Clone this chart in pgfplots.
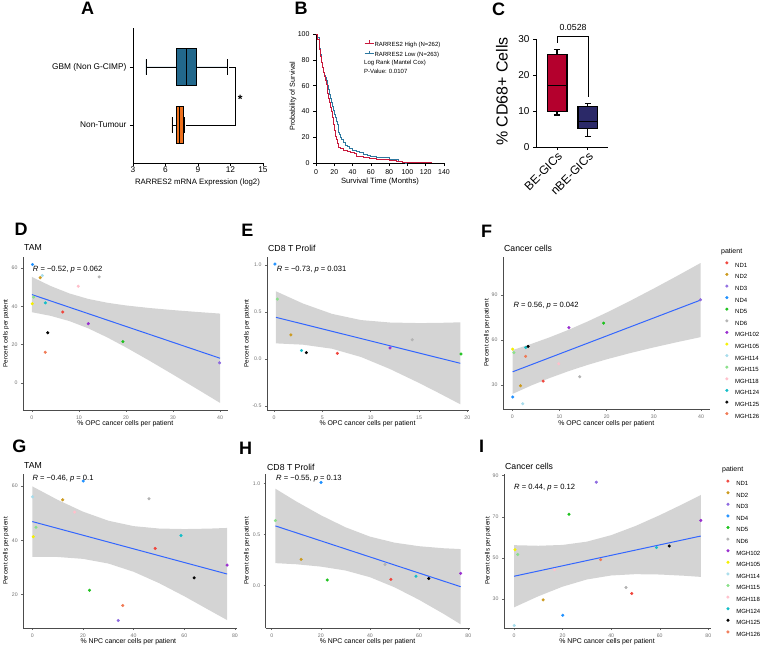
\documentclass[border=0pt]{standalone}
\usepackage{fontspec}
\setmainfont{Liberation Sans}
\usepackage{pgfplots}
\pgfplotsset{compat=1.18}
\usepgfplotslibrary{statistics}

\definecolor{cGBM}{RGB}{34,104,140}
\definecolor{cNT}{RGB}{236,112,30}
\definecolor{cHigh}{RGB}{200,25,60}
\definecolor{cLow}{RGB}{45,120,160}
\definecolor{cBE}{RGB}{180,0,45}
\definecolor{cnBE}{RGB}{43,41,104}
\definecolor{cFit}{HTML}{3366FF}
\definecolor{cND1}{HTML}{F0453C}
\definecolor{cND2}{HTML}{CC9A1E}
\definecolor{cND3}{HTML}{8E6BE0}
\definecolor{cND4}{HTML}{1E90FF}
\definecolor{cND5}{HTML}{1FC21F}
\definecolor{cND6}{HTML}{B3B3B3}
\definecolor{cMGH102}{HTML}{9A2FD0}
\definecolor{cMGH105}{HTML}{F5F000}
\definecolor{cMGH114}{HTML}{A8DCEB}
\definecolor{cMGH115}{HTML}{8BE08B}
\definecolor{cMGH118}{HTML}{FFC0CB}
\definecolor{cMGH124}{HTML}{14BEC8}
\definecolor{cMGH125}{HTML}{000000}
\definecolor{cMGH126}{HTML}{F07A55}

\pgfplotsset{
  prism/.style={scale only axis, axis x line=bottom, axis y line=left,
    axis line style={-, black, line width=0.6pt}, tick align=outside,
    major tick length=3pt, tick style={black, line width=0.6pt},
    /pgf/number format/assume math mode=true},
  gg/.style={scale only axis, axis x line=bottom, axis y line=left,
    axis line style={-, black!70, line width=0.6pt}, tick align=outside,
    major tick length=2pt, tick style={black!60, line width=0.4pt},
    ticklabel style={font=\fontsize{5.2}{6}\selectfont, text=black!55},
    /pgf/number format/assume math mode=true},
  band/.style={fill=black!17, draw=none, forget plot},
  fitline/.style={color=cFit, line width=1pt, forget plot},
  ptcls/.style={scatter, only marks, scatter src=explicit symbolic, mark=*, mark size=1.35pt,
    forget plot,
    scatter/classes={
      ND1={mark=*,draw=cND1,fill=cND1}, ND2={mark=*,draw=cND2,fill=cND2},
      ND3={mark=*,draw=cND3,fill=cND3}, ND4={mark=*,draw=cND4,fill=cND4},
      ND5={mark=*,draw=cND5,fill=cND5}, ND6={mark=*,draw=cND6,fill=cND6},
      MGH102={mark=*,draw=cMGH102,fill=cMGH102}, MGH105={mark=*,draw=cMGH105,fill=cMGH105},
      MGH114={mark=*,draw=cMGH114,fill=cMGH114}, MGH115={mark=*,draw=cMGH115,fill=cMGH115},
      MGH118={mark=*,draw=cMGH118,fill=cMGH118}, MGH124={mark=*,draw=cMGH124,fill=cMGH124},
      MGH125={mark=*,draw=cMGH125,fill=cMGH125}, MGH126={mark=*,draw=cMGH126,fill=cMGH126}}},
  pl/.style={only marks, mark=*, mark size=1.35pt, draw=#1, fill=#1,
    legend image code/.code={\draw[##1] plot coordinates {(0pt,2.2pt)};}},
  km/.style={draw=#1, line width=0.8pt,
    legend image code/.code={\draw[##1] (0pt,2pt)--(9pt,2pt); \draw[##1] (4.5pt,2pt)--(4.5pt,4.5pt);}},
  ptlegend/.style={legend cell align=left,
    legend style={anchor=north west, draw=none, fill=none, inner sep=0pt,
      font=\fontsize{6}{7}\selectfont, row sep=5.3pt,
      nodes={inner sep=0.5pt, text height=4.5pt, text depth=0pt},
      /tikz/every odd column/.append style={column sep=6.5pt}}},
}

\newcommand{\patientlegend}{%
  \addlegendimage{pl=cND1}\addlegendentry{ND1}
  \addlegendimage{pl=cND2}\addlegendentry{ND2}
  \addlegendimage{pl=cND3}\addlegendentry{ND3}
  \addlegendimage{pl=cND4}\addlegendentry{ND4}
  \addlegendimage{pl=cND5}\addlegendentry{ND5}
  \addlegendimage{pl=cND6}\addlegendentry{ND6}
  \addlegendimage{pl=cMGH102}\addlegendentry{MGH102}
  \addlegendimage{pl=cMGH105}\addlegendentry{MGH105}
  \addlegendimage{pl=cMGH114}\addlegendentry{MGH114}
  \addlegendimage{pl=cMGH115}\addlegendentry{MGH115}
  \addlegendimage{pl=cMGH118}\addlegendentry{MGH118}
  \addlegendimage{pl=cMGH124}\addlegendentry{MGH124}
  \addlegendimage{pl=cMGH125}\addlegendentry{MGH125}
  \addlegendimage{pl=cMGH126}\addlegendentry{MGH126}}

\begin{document}
\begin{tikzpicture}
\useasboundingbox (0pt,0pt) rectangle (761pt,-648pt);

% ---------- A ----------
\begin{axis}[prism, at={(133pt,-163pt)}, anchor=south west, width=130pt, height=135pt,
  xmin=3, xmax=15, ymin=0.345, ymax=2.672, xtick={3,6,9,12,15}, ytick={1,2},
  yticklabels={Non-Tumour,GBM (Non G-CIMP)},
  ticklabel style={font=\fontsize{8.3}{10}\selectfont}, xticklabel style={inner sep=1pt},
  clip=false]
\addplot[boxplot prepared={draw direction=x, draw position=2, median=7.9,
  lower quartile=7.0, upper quartile=8.8, lower whisker=4.2, upper whisker=11.7,
  box extend=0.64, whisker extend=0.26}, draw=black, fill=cGBM, line width=0.6pt] coordinates {};
\addplot[boxplot prepared={draw direction=x, draw position=1, median=7.3,
  lower quartile=7.0, upper quartile=7.6, lower whisker=6.6, upper whisker=7.7,
  box extend=0.64, whisker extend=0.26}, draw=black, fill=cNT, line width=0.6pt] coordinates {};
\draw[line width=0.6pt] (axis cs:11.9,2) -- (axis cs:12.4,2) -- (axis cs:12.4,1) -- (axis cs:7.85,1);
\node[font=\bfseries\fontsize{12}{12}\selectfont] at (axis cs:12.9,1.45) {*};
\end{axis}
\node[font=\fontsize{7.8}{9}\selectfont] at (197.5pt,-182pt) {RARRES2 mRNA Expression (log2)};

% ---------- B ----------
\begin{axis}[prism, at={(316pt,-163pt)}, anchor=south west, width=128pt, height=129pt,
  xmin=0, xmax=140, ymin=0, ymax=100, xtick={0,20,...,140}, ytick={0,20,...,100},
  ticklabel style={font=\fontsize{7}{8}\selectfont},
  legend cell align=left,
  legend style={at={(0.375,0.955)}, anchor=north west, draw=none, fill=none, inner sep=0pt,
    font=\fontsize{6}{7}\selectfont, row sep=2pt,
    nodes={inner sep=0.5pt, text height=4.5pt, text depth=1.3pt}}]
\addplot[const plot, color=cLow, line width=0.8pt, forget plot] coordinates {
(0,100)(2,97)(4,89)(5,84)(6,78)(7,74)(8,70)(9,68)(10,66)(11,64)(12,62)(13,60)(14,57)
(15,53)(16,50)(17,47)(18,44)(19,41)(20,38)(21,35)(22,32)(23,30)(24,27)(25,24)(26,22)
(27,20)(28,18)(30,16)(32,14)(34,12.5)(37,11)(40,10)(44,9)(48,8)(52,7)(56,6)(60,5)
(66,4.5)(72,4)(80,3)(86,2.5)(90,1.5)(94,0.8)(98,0)(100,0)};
\addplot[const plot, color=cHigh, line width=0.8pt, forget plot] coordinates {
(0,100)(2,96)(4,88)(5,83)(6,78)(7,74)(8,70)(9,67)(10,64)(11,61)(12,58)(13,54)(14,50)
(15,47)(16,43)(17,40)(18,35)(19,30)(20,25)(21,21)(22,18)(23,15)(24,13)(25,12)(27,11)
(30,10)(34,9)(38,8)(42,7.5)(44,5.5)(48,5)(52,4)(58,3.5)(66,3)(72,2.5)(80,2)(88,1.5)
(94,0.8)(100,0.5)(110,0.4)(127,0.4)};
\addlegendimage{km=cHigh}\addlegendentry{RARRES2 High (N=262)}
\addlegendimage{km=cLow}\addlegendentry{RARRES2 Low (N=263)}
\end{axis}
\node[anchor=west, font=\fontsize{6}{7}\selectfont, inner sep=0pt] at (364pt,-63pt) {Log Rank (Mantel Cox)};
\node[anchor=west, font=\fontsize{6}{7}\selectfont, inner sep=0pt] at (364pt,-71.5pt) {P-Value: 0.0107};
\node[rotate=90, font=\fontsize{7.2}{8}\selectfont] at (293pt,-96pt) {Probability of Survival};
\node[font=\fontsize{7.6}{9}\selectfont] at (380pt,-182pt) {Survival Time (Months)};

% ---------- C ----------
\begin{axis}[prism, at={(536pt,-147pt)}, anchor=south west, width=72pt, height=108pt,
  xmin=0.32, xmax=2.65, ymin=0, ymax=30, xtick={1,2}, xticklabels={BE-GICs,nBE-GICs},
  ytick={0,10,20,30}, yticklabel style={font=\fontsize{10}{12}\selectfont},
  xticklabel style={font=\fontsize{12}{14}\selectfont, rotate=45, anchor=north east, inner sep=1pt},
  axis line style={line width=1pt}, tick style={line width=1pt}, clip=false]
\addplot[boxplot prepared={draw direction=y, draw position=1, median=17, lower quartile=9.8,
  upper quartile=25.8, lower whisker=8.9, upper whisker=27.2,
  box extend=0.645, whisker extend=0.2}, draw=black, fill=cBE, line width=1.1pt] coordinates {};
\addplot[boxplot prepared={draw direction=y, draw position=2, median=7.2, lower quartile=5.2,
  upper quartile=11.2, lower whisker=3, upper whisker=12,
  box extend=0.645, whisker extend=0.2}, draw=black, fill=cnBE, line width=1.1pt] coordinates {};
\draw[line width=0.8pt] (axis cs:1,28.9) -- (axis cs:1,30.8) -- (axis cs:2,30.8) -- (axis cs:2,13.9);
\node[font=\fontsize{8.8}{10}\selectfont] at (axis cs:1.52,33.3) {0.0528};
\end{axis}
\node[rotate=90, font=\fontsize{16}{18}\selectfont] at (502pt,-91.5pt) {\% CD68+ Cells};

% ---------- D ----------
\begin{axis}[gg, at={(23pt,-410pt)}, anchor=south west, width=205pt, height=153pt,
  xmin=-1.9, xmax=41.7, ymin=-14.1, ymax=65.7, xtick={0,10,...,40}, ytick={0,20,40,60}]
\addplot[band] coordinates {(0,55.30)(4,50.56)(8,46.67)(12,43.82)(16,41.85)(20,40.44)(25,39.10)
 (30,38.01)(35,37.07)(40,36.19)(40,-10.39)(35,-2.97)(30,4.39)(25,11.60)(20,18.56)(16,23.79)
 (12,28.46)(8,32.25)(4,35.00)(0,36.90)};
\addplot[fitline] coordinates {(0,46.1)(40,12.9)};
\addplot[ptcls] table[meta=p] {
x y p
0.10 61.8 ND4
2.20 56.0 MGH114
1.75 54.9 ND2
14.3 55.3 ND6
9.85 50.4 MGH118
0.35 44.8 MGH115
0.08 41.3 MGH105
2.85 41.8 MGH124
6.55 37.0 ND1
12.0 30.9 MGH102
3.35 26.2 MGH125
19.35 21.6 ND5
2.82 16.0 MGH126
39.9 10.5 ND3
};
\end{axis}

% ---------- E ----------
\begin{axis}[gg, at={(267pt,-410pt)}, anchor=south west, width=202pt, height=153pt,
  xmin=-0.72, xmax=20.17, ymin=-0.543, ymax=1.085, xtick={0,5,...,20}, ytick={-0.5,0,0.5,1},
  yticklabel style={/pgf/number format/.cd, fixed, fixed zerofill, precision=1}]
\addplot[band] coordinates {(0.21,0.720)(3,0.590)(6,0.480)(9,0.414)(12,0.388)(15,0.382)(17,0.384)
 (19.27,0.390)(19.27,-0.482)(17,-0.360)(15,-0.255)(12,-0.107)(9,0.021)(6,0.109)(3,0.152)(0.21,0.166)};
\addplot[fitline] coordinates {(0.21,0.443)(19.27,-0.046)};
\addplot[ptcls] table[meta=p] {
x y p
0.10 1.010 ND4
0.35 0.637 MGH115
1.75 0.256 ND2
2.85 0.091 MGH124
3.35 0.068 MGH125
6.55 0.060 ND1
12.0 0.118 MGH102
14.3 0.205 ND6
19.35 0.053 ND5
};
\end{axis}

% ---------- F ----------
\begin{axis}[gg, ptlegend, at={(503pt,-409pt)}, anchor=south west, width=207pt, height=152pt,
  xmin=-1.97, xmax=41.9, ymin=14, ymax=115.3, xtick={0,10,...,40}, ytick={30,60,90},
  legend style={at={(1.074,0.972)}}]
\addplot[band] coordinates {(0.08,53.3)(4,57.35)(8,61.87)(12,66.89)(16,72.38)(20,78.28)(25,86.12)
 (30,94.33)(35,102.8)(39.9,111.3)(39.9,61.9)(35,58.6)(30,55.07)(25,51.28)(20,47.12)(16,43.42)
 (12,39.31)(8,34.73)(4,29.65)(0.08,24.1)};
\addplot[fitline] coordinates {(0.08,38.8)(39.9,86.6)};
\addplot[ptcls] table[meta=p] {
x y p
6.55 32.6 ND1
1.75 29.5 ND2
39.9 86.8 ND3
0.10 22.0 ND4
19.35 71.2 ND5
14.3 35.5 ND6
12.0 68.2 MGH102
0.08 53.9 MGH105
2.20 17.5 MGH114
0.35 51.6 MGH115
9.85 44.2 MGH118
2.85 55.0 MGH124
3.35 55.7 MGH125
2.82 49.1 MGH126
};
\patientlegend
\end{axis}

% ---------- G ----------
\begin{axis}[gg, at={(23.3pt,-628pt)}, anchor=south west, width=213.7pt, height=154pt,
  xmin=-3.55, xmax=80.8, ymin=7.73, ymax=64.4, xtick={0,20,...,80}, ytick={20,40,60}]
\addplot[band] coordinates {(0,59.86)(10,54.90)(20,50.55)(30,47.22)(40,45.22)(50,44.34)(60,44.14)
 (70,44.31)(76.9,44.55)(76.9,10.65)(70,14.21)(60,19.42)(50,24.26)(40,28.42)(30,31.46)(20,33.17)
 (10,33.86)(0,33.94)};
\addplot[fitline] coordinates {(0,46.9)(76.9,27.6)};
\addplot[ptcls] table[meta=p] {
x y p
20.1 61.8 ND4
0.1 56.0 MGH114
46.1 55.3 ND6
12.0 54.9 ND2
16.7 50.4 MGH118
1.5 44.8 MGH115
0.4 41.3 MGH105
58.7 41.8 MGH124
48.5 37.0 ND1
76.9 30.9 MGH102
63.9 26.2 MGH125
22.6 21.6 ND5
35.7 16.0 MGH126
33.9 10.5 ND3
};
\end{axis}

% ---------- H ----------
\begin{axis}[gg, at={(265.7pt,-628pt)}, anchor=south west, width=204.3pt, height=154pt,
  xmin=-2.44, xmax=80.7, ymin=-0.417, ymax=1.093, xtick={0,20,...,80}, ytick={0,0.5,1},
  yticklabel style={/pgf/number format/.cd, fixed, fixed zerofill, precision=1}]
\addplot[band] coordinates {(1.5,0.949)(10,0.824)(20,0.689)(30,0.571)(40,0.479)(50,0.420)(60,0.385)
 (70,0.365)(76.9,0.357)(76.9,-0.381)(70,-0.279)(60,-0.141)(50,-0.018)(40,0.081)(30,0.147)
 (20,0.185)(10,0.208)(1.5,0.219)};
\addplot[fitline] coordinates {(1.5,0.584)(76.9,-0.012)};
\addplot[ptcls] table[meta=p] {
x y p
20.1 1.010 ND4
1.5 0.637 MGH115
12.0 0.256 ND2
46.1 0.205 ND6
76.9 0.118 MGH102
58.7 0.091 MGH124
22.6 0.053 ND5
48.5 0.060 ND1
63.9 0.068 MGH125
};
\end{axis}

% ---------- I ----------
\begin{axis}[gg, ptlegend, at={(504pt,-628pt)}, anchor=south west, width=206.5pt, height=154pt,
  xmin=-4.12, xmax=80.9, ymin=15.8, ymax=90.8, xtick={0,20,...,80}, ytick={30,50,70,90},
  legend style={at={(1.077,0.964)}}]
\addplot[band] coordinates {(0,56.14)(10,55.85)(20,56.26)(30,57.86)(40,61.02)(50,65.48)(60,70.75)
 (70,76.45)(76.9,80.59)(76.9,40.69)(70,41.25)(60,41.85)(50,42.02)(40,41.38)(30,39.44)(20,35.94)
 (10,31.25)(0,25.86)};
\addplot[fitline] coordinates {(0,41)(76.9,60.6)};
\addplot[ptcls] table[meta=p] {
x y p
48.5 32.6 ND1
12.0 29.5 ND2
33.9 86.8 ND3
20.1 22.0 ND4
22.6 71.2 ND5
46.1 35.5 ND6
76.9 68.2 MGH102
0.4 53.9 MGH105
0.1 17.0 MGH114
1.5 51.6 MGH115
16.7 44.2 MGH118
58.7 55.0 MGH124
63.9 55.7 MGH125
35.7 49.1 MGH126
};
\patientlegend
\end{axis}

% ---------- texts of the ggplot panels ----------
\begin{scope}[every node/.style={inner sep=0pt}]
\node[anchor=west, font=\fontsize{8.7}{10}\selectfont] at (24pt,-248pt) {TAM};
\node[anchor=west, font=\fontsize{8.7}{10}\selectfont] at (268pt,-248pt) {CD8 T Prolif};
\node[anchor=west, font=\fontsize{8.7}{10}\selectfont] at (504pt,-248pt) {Cancer cells};
\node[anchor=west, font=\fontsize{8.7}{10}\selectfont] at (24pt,-466pt) {TAM};
\node[anchor=west, font=\fontsize{8.7}{10}\selectfont] at (267pt,-467pt) {CD8 T Prolif};
\node[anchor=west, font=\fontsize{8.7}{10}\selectfont] at (505pt,-466pt) {Cancer cells};

\node[anchor=west, font=\fontsize{7.6}{9}\selectfont] at (32.7pt,-270pt) {\textit{R} = −0.52, \textit{p} = 0.062};
\node[anchor=west, font=\fontsize{7.6}{9}\selectfont] at (276.7pt,-269.3pt) {\textit{R} = −0.73, \textit{p} = 0.031};
\node[anchor=west, font=\fontsize{7.6}{9}\selectfont] at (513.3pt,-306pt) {\textit{R} = 0.56, \textit{p} = 0.042};
\node[anchor=west, font=\fontsize{7.6}{9}\selectfont] at (32.3pt,-478.7pt) {\textit{R} = −0.46, \textit{p} = 0.1};
\node[anchor=west, font=\fontsize{7.6}{9}\selectfont] at (276pt,-478.7pt) {\textit{R} = −0.55, \textit{p} = 0.13};
\node[anchor=west, font=\fontsize{7.6}{9}\selectfont] at (514pt,-487.7pt) {\textit{R} = 0.44, \textit{p} = 0.12};

\node[rotate=90, font=\fontsize{6.3}{7}\selectfont] at (6pt,-333.5pt) {Percent cells per patient};
\node[rotate=90, font=\fontsize{6.3}{7}\selectfont] at (247pt,-333.5pt) {Percent cells per patient};
\node[rotate=90, font=\fontsize{6.3}{7}\selectfont] at (487pt,-333pt) {Percent cells per patient};
\node[rotate=90, font=\fontsize{6.3}{7}\selectfont] at (6pt,-551pt) {Percent cells per patient};
\node[rotate=90, font=\fontsize{6.3}{7}\selectfont] at (247pt,-551pt) {Percent cells per patient};
\node[rotate=90, font=\fontsize{6.3}{7}\selectfont] at (488pt,-551pt) {Percent cells per patient};

\node[font=\fontsize{6.9}{8}\selectfont] at (125.3pt,-423.3pt) {\% OPC cancer cells per patient};
\node[font=\fontsize{6.9}{8}\selectfont] at (367.5pt,-423.3pt) {\% OPC cancer cells per patient};
\node[font=\fontsize{6.9}{8}\selectfont] at (606.3pt,-423.3pt) {\% OPC cancer cells per patient};
\node[font=\fontsize{6.9}{8}\selectfont] at (128.3pt,-641.7pt) {\% NPC cancer cells per patient};
\node[font=\fontsize{6.9}{8}\selectfont] at (367.5pt,-642pt) {\% NPC cancer cells per patient};
\node[font=\fontsize{6.9}{8}\selectfont] at (607pt,-642pt) {\% NPC cancer cells per patient};

\node[anchor=west, font=\fontsize{7}{8}\selectfont] at (721pt,-251.7pt) {patient};
\node[anchor=west, font=\fontsize{7}{8}\selectfont] at (722pt,-470pt) {patient};

% panel letters
\node[font=\bfseries\fontsize{18}{20}\selectfont] at (87.5pt,-8.5pt) {A};
\node[font=\bfseries\fontsize{18}{20}\selectfont] at (301pt,-8.5pt) {B};
\node[font=\bfseries\fontsize{18}{20}\selectfont] at (498.5pt,-9pt) {C};
\node[font=\bfseries\fontsize{18}{20}\selectfont] at (21pt,-229.5pt) {D};
\node[font=\bfseries\fontsize{18}{20}\selectfont] at (247.5pt,-230pt) {E};
\node[font=\bfseries\fontsize{18}{20}\selectfont] at (486.7pt,-231pt) {F};
\node[font=\bfseries\fontsize{18}{20}\selectfont] at (19.3pt,-446.7pt) {G};
\node[font=\bfseries\fontsize{18}{20}\selectfont] at (245.5pt,-448.3pt) {H};
\node[font=\bfseries\fontsize{18}{20}\selectfont] at (481.5pt,-446pt) {I};
\end{scope}
\end{tikzpicture}
\end{document}
